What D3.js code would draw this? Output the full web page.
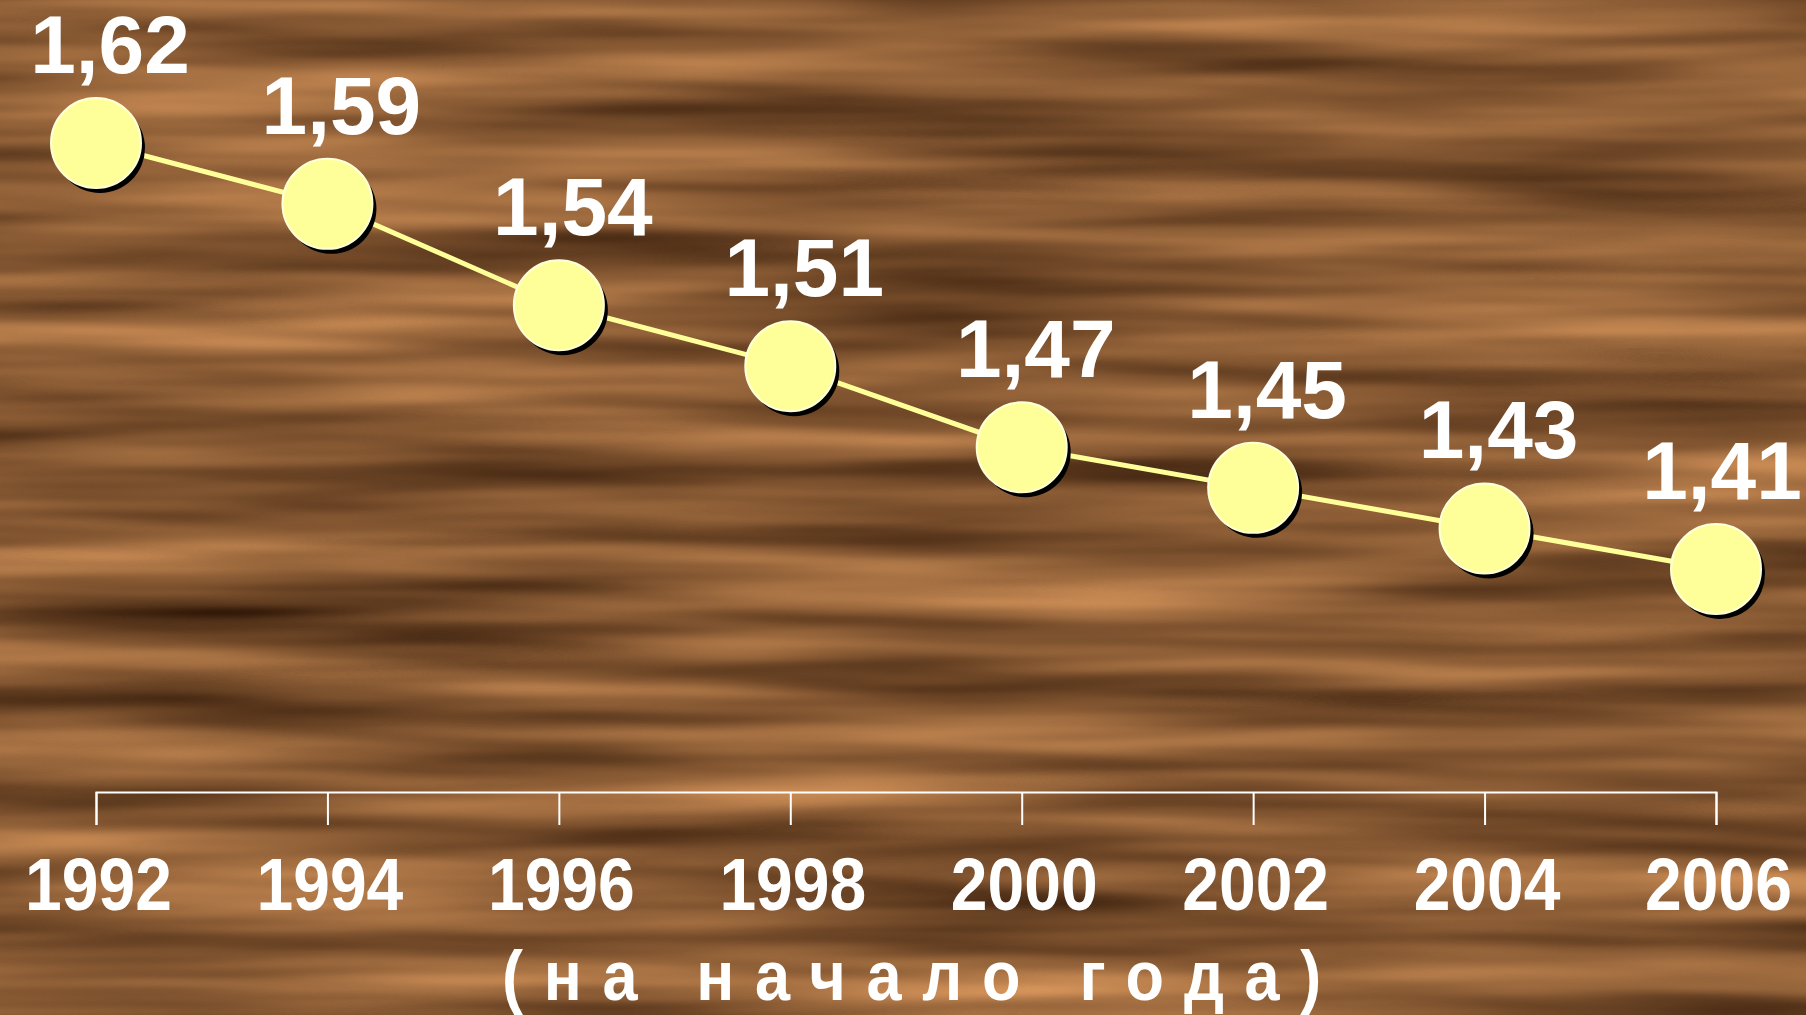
<!DOCTYPE html>
<html>
<head>
<meta charset="utf-8">
<script src="https://cdn.jsdelivr.net/npm/d3@7"></script>
<style>
  html, body { margin: 0; padding: 0; overflow: hidden; background: #7f5030; }
</style>
</head>
<body>
<div id="graph"></div>
<script>
const years = [1992, 1994, 1996, 1998, 2000, 2002, 2004, 2006];
const values = [1.62, 1.59, 1.54, 1.51, 1.47, 1.45, 1.43, 1.41];
const valueLabels = ["1,62", "1,59", "1,54", "1,51", "1,47", "1,45", "1,43", "1,41"];
const subtitle = "(на начало года)";

const width = 1806, height = 1015;

const x = d3.scaleLinear()
    .domain([1992, 2006])
    .range([96, 1716]);
const y = d3.scaleLinear()
    .domain([1.41, 1.62])
    .range([569, 143]);

const svg = d3.select("#graph")
    .append("svg")
    .attr("width", width)
    .attr("height", height);

// wood-like background
const defs = svg.append("defs");
const wood = defs.append("filter")
    .attr("id", "wood")
    .attr("filterUnits", "userSpaceOnUse")
    .attr("color-interpolation-filters", "sRGB")
    .attr("x", 0).attr("y", 0)
    .attr("width", width).attr("height", height);
wood.append("feTurbulence")
    .attr("type", "fractalNoise")
    .attr("baseFrequency", "0.0015 0.022")
    .attr("numOctaves", 3)
    .attr("seed", 7);
wood.append("feColorMatrix")
    .attr("type", "matrix")
    .attr("values", "0.8 0 0 0 0.13  0.6 0 0 0 0.05  0.4 0 0 0 0.0  0 0 0 0 1");
svg.append("rect")
    .attr("width", width)
    .attr("height", height)
    .attr("filter", "url(#wood)");

// x axis
const axis = svg.append("g")
    .attr("transform", "translate(0,792)")
    .call(d3.axisBottom(x).tickValues(years).tickFormat(d3.format("d"))
        .tickSizeInner(33).tickSizeOuter(33).tickPadding(0));
axis.select(".domain").attr("stroke", "#fff").attr("stroke-width", 2);
axis.selectAll(".tick line").attr("stroke", "#fff").attr("stroke-width", 2);
axis.selectAll(".tick text")
    .attr("y", 0)
    .attr("dy", 0)
    .attr("transform", "translate(2,118) scale(0.88,1)")
    .attr("fill", "#fff")
    .style("font-family", "'Liberation Sans', Arial, sans-serif")
    .style("font-weight", "bold")
    .style("font-size", "75px");

svg.append("text")
    .attr("transform", "translate(922,1000) scale(0.9,1)")
    .attr("text-anchor", "middle")
    .attr("fill", "#fff")
    .style("font-family", "'Liberation Sans', Arial, sans-serif")
    .style("font-weight", "bold")
    .style("font-size", "70px")
    .style("letter-spacing", "23px")
    .text(subtitle);

// line
const line = d3.line()
    .x((d, i) => x(years[i]))
    .y(d => y(d));
svg.append("path")
    .datum(values)
    .attr("fill", "none")
    .attr("stroke", "#ffff99")
    .attr("stroke-width", 5)
    .attr("d", line);

// markers
const pts = svg.selectAll(".pt")
    .data(values)
    .enter().append("g")
    .attr("class", "pt")
    .attr("transform", (d, i) => "translate(" + x(years[i]) + "," + y(d) + ")");
pts.append("circle")
    .attr("cx", 4).attr("cy", 5)
    .attr("r", 45)
    .attr("fill", "#000");
pts.append("circle")
    .attr("r", 45)
    .attr("fill", "#ffff99")
    .attr("stroke", "#ffffd8")
    .attr("stroke-width", 2);

// value labels
svg.selectAll(".val")
    .data(values)
    .enter().append("text")
    .attr("class", "val")
    .attr("x", (d, i) => Math.min(Math.max(x(years[i]) + 14, 95), width - 84))
    .attr("y", d => y(d) - 70)
    .attr("text-anchor", "middle")
    .attr("fill", "#fff")
    .style("font-family", "'Liberation Sans', Arial, sans-serif")
    .style("font-weight", "bold")
    .style("font-size", "82px")
    .text((d, i) => valueLabels[i]);
</script>
</body>
</html>
